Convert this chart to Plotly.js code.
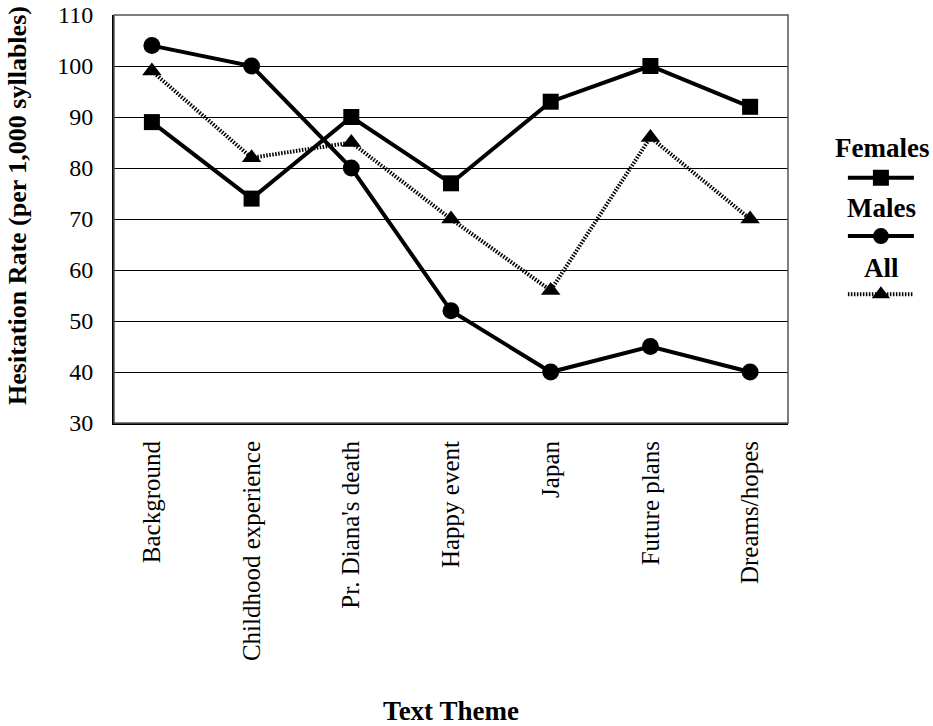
<!DOCTYPE html>
<html>
<head>
<meta charset="utf-8">
<script src="https://cdn.plot.ly/plotly-3.0.1.min.js"></script>
<style>html,body{margin:0;padding:0;background:#fff;}#chart{width:933px;height:726px;}</style>
</head>
<body>
<div id="chart"></div>
<script>
const categories = ["Background", "Childhood experience", "Pr. Diana's death", "Happy event", "Japan", "Future plans", "Dreams/hopes"];
const females = [89, 74, 90, 77, 93, 100, 92];
const males = [104, 100, 80, 52, 40, 45, 40];
const allSpeakers = [99, 82, 85, 70, 56, 86, 70];
const seriesNames = ["Females", "Males", "All"];
const yTicks = [30, 40, 50, 60, 70, 80, 90, 100, 110];
const yTitle = "Hesitation Rate (per 1,000 syllables)";
const xTitle = "Text Theme";

const FONT = "Liberation Serif, Times New Roman, serif";

const traces = [
  {x: categories, y: females, name: " ", legendgroup: "f", type: "scatter", mode: "lines+markers",
   line: {color: "#000", width: 4}, marker: {symbol: "square", size: 16, color: "#000"}},
  {x: categories, y: males, name: " ", legendgroup: "m", type: "scatter", mode: "lines+markers",
   line: {color: "#000", width: 4}, marker: {symbol: "circle", size: 17, color: "#000"}},
  {x: categories, y: allSpeakers, name: " ", legendgroup: "a", type: "scatter", mode: "lines+markers",
   line: {color: "#000", width: 4, dash: "1.5px,1.5px"}, marker: {symbol: "triangle-up", size: 17, color: "#000"}}
];

const layout = {
  width: 933, height: 726,
  margin: {l: 114, r: 145, t: 15, b: 303, autoexpand: false},
  paper_bgcolor: "#fff", plot_bgcolor: "#fff",
  font: {family: FONT, color: "#000", size: 24},
  showlegend: true,
  legend: {x: 1.146, xanchor: "center", y: 0.655, yanchor: "top", traceorder: "grouped",
           tracegroupgap: 24, itemwidth: 66, font: {size: 24, family: FONT}, bgcolor: "rgba(0,0,0,0)"},
  xaxis: {
    type: "category", range: [-0.38, 6.38], tickangle: -90, showgrid: false,
    showline: true, linecolor: "#000", linewidth: 2, ticks: "", zeroline: false,
    tickfont: {size: 25, family: FONT}, ticklabelstandoff: 6,
    title: {text: "<b>" + xTitle + "</b>", font: {size: 27, family: FONT}, standoff: 52}
  },
  yaxis: {
    range: [30, 110], tickvals: yTicks, ticktext: yTicks.map(String), showgrid: true, gridcolor: "#000", gridwidth: 1,
    showline: true, linecolor: "#000", linewidth: 2, ticks: "", zeroline: false,
    tickfont: {size: 24, family: FONT}, ticklabelstandoff: 14
  },
  shapes: [
    {type: "rect", xref: "paper", yref: "paper", x0: 0, x1: 1, y0: 0, y1: 1, line: {color: "#555", width: 1.5}}
  ],
  annotations: seriesNames.map((n, i) => ({
    text: "<b>" + n + "</b>", xref: "paper", yref: "paper", x: 1.139, y: [0.674, 0.527, 0.38][i],
    showarrow: false, font: {size: 27, family: FONT, color: "#000"}, xanchor: "center", yanchor: "middle"
  })).concat([{
    text: "<b>" + yTitle + "</b>", xref: "paper", yref: "paper", x: -0.1424, y: 0.532, textangle: -90,
    showarrow: false, font: {size: 26, family: FONT, color: "#000"}, xanchor: "center", yanchor: "middle"
  }])
};

Plotly.newPlot("chart", traces, layout, {displayModeBar: false, staticPlot: true});
</script>
</body>
</html>
